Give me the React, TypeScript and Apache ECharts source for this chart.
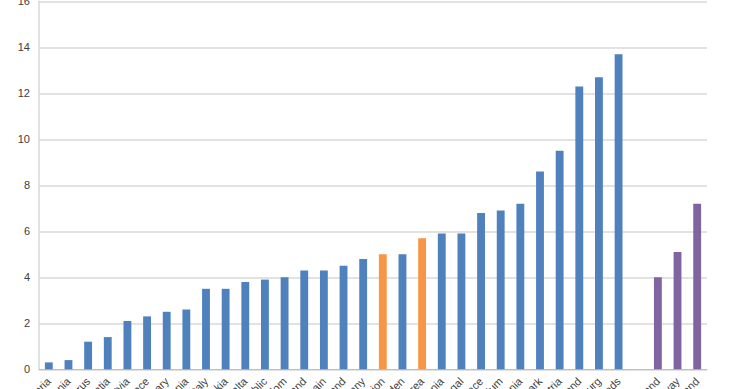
import React, { useEffect, useRef } from "react";
import * as echarts from "echarts";

const categories = [
  "Bulgaria", "Romania", "Cyprus", "Croatia", "Latvia", "Greece", "Hungary", "Lithuania",
  "Italy", "Slovakia", "Malta", "Czech Republic", "United Kingdom", "Poland", "Spain",
  "Ireland", "Germany", "European Union", "Sweden", "Euro area", "Estonia", "Portugal",
  "France", "Belgium", "Slovenia", "Denmark", "Austria", "Finland", "Luxembourg",
  "Netherlands", "", "Iceland", "Norway", "Switzerland",
];

const values: (number | null)[] = [
  0.3, 0.4, 1.2, 1.4, 2.1, 2.3, 2.5, 2.6, 3.5, 3.5, 3.8, 3.9, 4.0, 4.3, 4.3, 4.5, 4.8,
  5.0, 5.0, 5.7, 5.9, 5.9, 6.8, 6.9, 7.2, 8.6, 9.5, 12.3, 12.7, 13.7, null, 4.0, 5.1, 7.2,
];

// group of each bar: c = country, a = aggregate, e = EFTA
const groups = [
  "c", "c", "c", "c", "c", "c", "c", "c", "c", "c", "c", "c", "c", "c", "c", "c", "c",
  "a", "c", "a", "c", "c", "c", "c", "c", "c", "c", "c", "c", "c", "c", "e", "e", "e",
];

const yTicks = { min: 0, max: 16, interval: 2 };

const groupColors: Record<string, string> = {
  c: "#4f81bd",
  a: "#f79646",
  e: "#8064a2",
};

export default function App() {
  const ref = useRef<HTMLDivElement>(null);

  useEffect(() => {
    if (!ref.current) return;
    const chart = echarts.init(ref.current, undefined, { renderer: "svg" });
    chart.setOption({
      animation: false,
      backgroundColor: "#ffffff",
      grid: {
        left: 39,
        right: 33,
        top: 1.3,
        bottom: 19.7,
        containLabel: false,
        outerBoundsMode: "none",
      },
      xAxis: {
        type: "category",
        data: categories,
        axisLine: { show: true, lineStyle: { color: "#bfbfbf", width: 1 } },
        axisTick: { show: false },
        axisLabel: {
          interval: 0,
          rotate: 45,
          margin: 10,
          fontSize: 11,
          color: "#404040",
          fontFamily: "Liberation Sans, Arial, sans-serif",
        },
      },
      yAxis: {
        type: "value",
        min: yTicks.min,
        max: yTicks.max,
        interval: yTicks.interval,
        axisLine: { show: true, lineStyle: { color: "#d9d9d9", width: 1.5 } },
        axisTick: { show: false },
        splitLine: { show: true, lineStyle: { color: "#d9d9d9", width: 1.5 } },
        axisLabel: {
          margin: 9,
          fontSize: 11,
          color: "#404040",
          fontFamily: "Liberation Sans, Arial, sans-serif",
        },
      },
      series: [
        {
          type: "bar",
          barWidth: "40%",
          data: values.map((v, i) => ({
            value: v,
            itemStyle: { color: groupColors[groups[i]] },
          })),
        },
      ],
    });
    return () => chart.dispose();
  }, []);

  return (
    <div
      ref={ref}
      style={{ position: "fixed", left: 0, top: 0, width: 740, height: 389, background: "#fff" }}
    />
  );
}
